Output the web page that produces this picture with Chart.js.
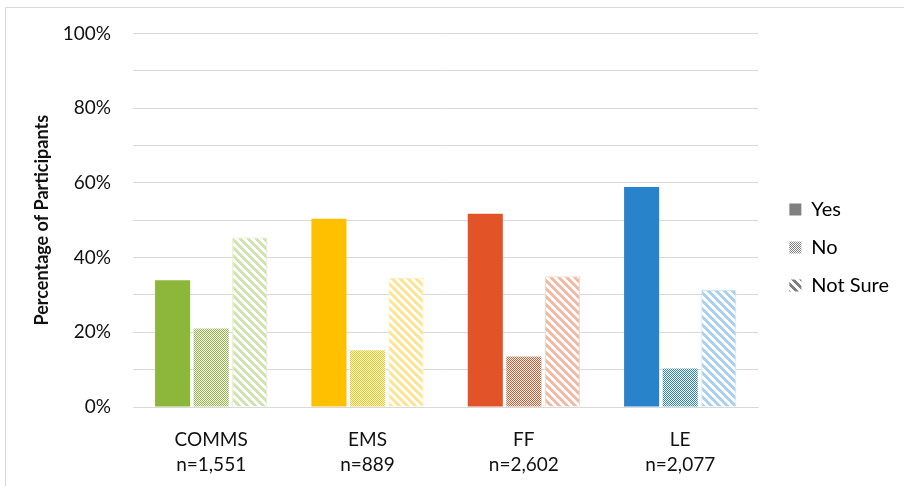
<!DOCTYPE html>
<html>
<head>
<meta charset="utf-8">
<script src="https://cdn.jsdelivr.net/npm/chart.js@4/dist/chart.umd.min.js"></script>
<style>
  html, body { margin: 0; padding: 0; background: #ffffff; }
  #wrap { position: relative; width: 904px; height: 486px; }
  #frame { position: absolute; left: 5px; top: 7px; right: 0; bottom: 0;
           border-left: 1px solid #d9d9d9; border-top: 1px solid #d9d9d9; pointer-events: none; }
  canvas { position: absolute; left: 0; top: 0; }
</style>
</head>
<body>
<div id="wrap">
  <canvas id="chart" width="904" height="486"></canvas>
  <div id="frame"></div>
</div>
<script>
// Groups and sample sizes (two-line axis labels)
const groups = ["COMMS", "EMS", "FF", "LE"];
const sampleSizes = ["n=1,551", "n=889", "n=2,602", "n=2,077"];

// Share of participants answering each option (%)
const yesValues = [33.9, 50.4, 51.7, 58.9];
const noValues = [21.0, 15.2, 13.5, 10.3];
const notSureValues = [45.4, 34.6, 35.0, 31.3];

const seriesNames = ["Yes", "No", "Not Sure"];
const yTicks = [0, 20, 40, 60, 80, 100];

// Per-group colours: solid, light tint for stripes, pale edge
const groupColors = ["#8cb73a", "#ffc000", "#e25427", "#2883ca"];
const groupTints = ["#cfe4ad", "#ffe38f", "#f5b9a3", "#a8d0f0"];
const groupEdges = ["#dcecc4", "#ffedb8", "#f9d3c4", "#cbe3f6"];

const FONT = "Lato, 'Open Sans', sans-serif";
const TEXT = "#111111";

function checkerPattern(color) {
  const c = document.createElement("canvas");
  c.width = 2; c.height = 2;
  const g = c.getContext("2d");
  g.fillStyle = "#ffffff"; g.fillRect(0, 0, 2, 2);
  g.fillStyle = color;
  g.fillRect(0, 0, 1, 1);
  g.fillRect(1, 1, 1, 1);
  return g.createPattern(c, "repeat");
}

function stripePattern(color) {
  const n = 8;
  const c = document.createElement("canvas");
  c.width = n; c.height = n;
  const g = c.getContext("2d");
  g.fillStyle = "#ffffff"; g.fillRect(0, 0, n, n);
  g.fillStyle = color;
  for (let y = 0; y < n; y++) {
    for (let x = 0; x < n; x++) {
      if ((((x - y) % n) + n) % n < 4) g.fillRect(x, y, 1, 1);
    }
  }
  return g.createPattern(c, "repeat");
}

const labels = groups.map((g, i) => [g, sampleSizes[i]]);

const data = {
  labels,
  datasets: [
    {
      label: seriesNames[0],
      data: yesValues,
      backgroundColor: groupColors,
      borderWidth: 0
    },
    {
      label: seriesNames[1],
      data: noValues,
      backgroundColor: groupColors.map(c => checkerPattern(c)),
      borderWidth: 0
    },
    {
      label: seriesNames[2],
      data: notSureValues,
      backgroundColor: groupTints.map(c => stripePattern(c)),
      borderColor: groupEdges,
      borderWidth: 1
    }
  ]
};

const legendFills = ["#808080", checkerPattern("#808080"), stripePattern("#808080")];

// Extra room between plot and legend
const LEGEND_GAP = 13;
const legendSpacer = {
  id: "legendSpacer",
  beforeUpdate(chart) {
    const lg = chart.legend;
    if (!lg || lg._spaced) return;
    lg._spaced = true;
    const fit = lg.fit.bind(lg);
    lg.fit = function () { fit(); this.width += LEGEND_GAP; };
    const draw = lg.draw.bind(lg);
    lg.draw = function () {
      const ctx = this.ctx;
      ctx.save();
      ctx.translate(LEGEND_GAP, 5);
      draw();
      ctx.restore();
    };
  }
};

new Chart(document.getElementById("chart"), {
  type: "bar",
  data,
  plugins: [legendSpacer],
  options: {
    responsive: false,
    animation: false,
    devicePixelRatio: 1,
    layout: { padding: { left: 31, right: 5, top: 9, bottom: 10 } },
    datasets: { bar: { categoryPercentage: 0.74, barPercentage: 0.91 } },
    scales: {
      x: {
        afterFit(scale) { scale.height = 69; },
        grid: { display: false, drawTicks: false },
        border: { display: true, color: "#d9d9d9", width: 1 },
        ticks: {
          color: TEXT,
          font: { family: FONT, size: 19, lineHeight: 1.3 },
          padding: 21,
          maxRotation: 0
        }
      },
      y: {
        min: 0,
        max: 100,
        afterFit(scale) { scale.width = 102; },
        grid: { color: "#d9d9d9", lineWidth: 1, drawTicks: false },
        border: { display: false },
        ticks: {
          stepSize: 10,
          padding: 22,
          color: TEXT,
          font: { family: FONT, size: 19 },
          callback: v => (yTicks.includes(v) ? v + "%" : "")
        },
        title: {
          display: true,
          text: "Percentage of Participants",
          color: TEXT,
          font: { family: FONT, size: 18, weight: "bold" },
          padding: { top: 0, bottom: 0 }
        }
      }
    },
    plugins: {
      tooltip: { enabled: false },
      legend: {
        position: "right",
        onClick: null,
        labels: {
          color: TEXT,
          font: { family: FONT, size: 20 },
          boxWidth: 12,
          boxHeight: 12,
          padding: 18,
          generateLabels: () => seriesNames.map((name, i) => ({
            text: name,
            fillStyle: legendFills[i],
            strokeStyle: "#ffffff",
            lineWidth: 0,
            hidden: false,
            datasetIndex: i
          }))
        }
      }
    }
  }
});
</script>
</body>
</html>
